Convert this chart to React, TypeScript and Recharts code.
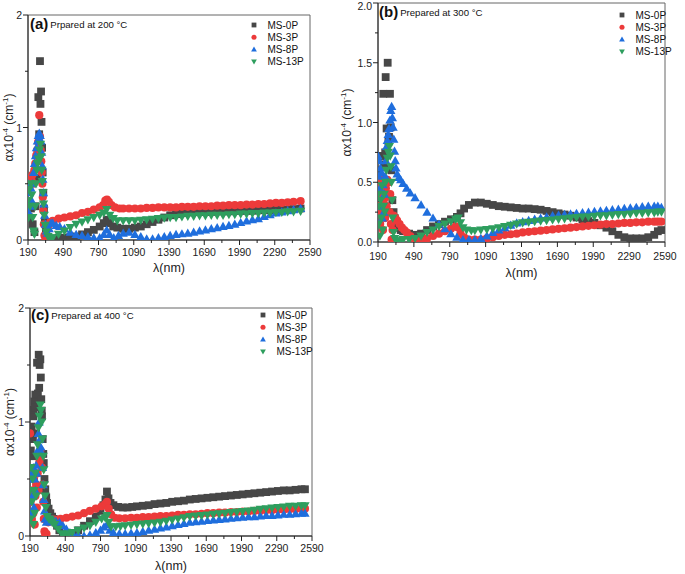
import React from "react"
import { ScatterChart, Scatter, XAxis, YAxis, ReferenceArea, Legend } from "recharts"

type Pt = [number, number]

const FONT = "'Liberation Sans', Arial, sans-serif"

const SERIES_NAMES = ["MS-0P", "MS-3P", "MS-8P", "MS-13P"]
const SERIES_COLORS = ["#474747", "#EC3A3A", "#1F6EDD", "#2E9E5E"]
const SERIES_SHAPES = ["square", "circle", "triangle", "triangleDown"]

const X_TICKS = [190, 340, 490, 640, 790, 940, 1090, 1240, 1390, 1540, 1690, 1840, 1990, 2140, 2290, 2440, 2590]
const X_LABELS = [190, 490, 790, 1090, 1390, 1690, 1990, 2290, 2590]
const Y_TICKS_AC = [0, 0.5, 1, 1.5, 2]
const Y_LABELS_AC = [0, 1, 2]
const Y_TICKS_B = [0, 0.25, 0.5, 0.75, 1, 1.25, 1.5, 1.75, 2]
const Y_LABELS_B = [0, 0.5, 1, 1.5, 2]

// (a) prepared at 200 °C
const A_0P: Pt[] = [[190,0.32],[200,0.2],[215,0.28],[230,0.14],[245,0.07],[255,0.3],[265,0.55],[272,0.75],[278,1.27],[285,0.94],[292,1.59],[296,1.21],[301,1.32],[305,1.05],[310,0.82],[315,0.6],[320,0.42],[326,0.28],[333,0.16],[342,0.08],[355,0.03],[375,0.01],[400,0.01],[450,0.02],[500,0.02],[550,0.03],[600,0.03],[650,0.05],[700,0.07],[750,0.09],[800,0.12],[835,0.15],[860,0.18],[885,0.15],[915,0.12],[950,0.11],[1000,0.1],[1050,0.1],[1100,0.11],[1150,0.12],[1200,0.14],[1250,0.16],[1300,0.18],[1350,0.2],[1400,0.22],[1450,0.23],[1500,0.24],[1550,0.245],[1600,0.25],[1650,0.25],[1700,0.25],[1750,0.25],[1800,0.255],[1850,0.255],[1900,0.255],[1950,0.26],[2000,0.26],[2050,0.26],[2100,0.26],[2150,0.265],[2200,0.265],[2250,0.265],[2300,0.27],[2350,0.27],[2400,0.27],[2450,0.275],[2510,0.28]]
const A_3P: Pt[] = [[190,0.45],[197,0.52],[205,0.5],[212,0.55],[220,0.53],[228,0.58],[236,0.5],[244,0.62],[252,0.68],[260,0.75],[268,0.8],[276,0.87],[286,1.11],[292,0.92],[298,0.8],[303,0.7],[308,0.6],[312,0.5],[316,0.38],[320,0.26],[325,0.14],[330,0.04],[338,0.0],[360,0.12],[380,0.16],[400,0.17],[450,0.19],[500,0.2],[550,0.21],[600,0.22],[650,0.24],[700,0.25],[750,0.27],[800,0.29],[830,0.31],[848,0.35],[862,0.36],[878,0.34],[900,0.31],[930,0.29],[970,0.28],[1000,0.28],[1050,0.28],[1100,0.28],[1150,0.28],[1200,0.285],[1250,0.285],[1300,0.29],[1350,0.29],[1400,0.29],[1450,0.29],[1500,0.295],[1550,0.295],[1600,0.295],[1650,0.3],[1700,0.3],[1750,0.3],[1800,0.305],[1850,0.305],[1900,0.31],[1950,0.31],[2000,0.31],[2050,0.315],[2100,0.315],[2150,0.32],[2200,0.32],[2250,0.325],[2300,0.33],[2350,0.33],[2400,0.335],[2450,0.34],[2510,0.345]]
const A_8P: Pt[] = [[190,0.5],[195,0.25],[202,0.42],[208,0.3],[215,0.46],[222,0.35],[230,0.5],[238,0.6],[246,0.68],[254,0.75],[262,0.82],[270,0.88],[278,0.93],[286,0.95],[294,0.93],[300,0.88],[306,0.78],[311,0.66],[316,0.54],[321,0.42],[326,0.32],[332,0.22],[338,0.14],[346,0.08],[356,0.06],[370,0.1],[385,0.15],[400,0.15],[430,0.13],[460,0.12],[500,0.1],[550,0.07],[600,0.05],[650,0.04],[700,0.03],[750,0.02],[800,0.02],[835,0.05],[860,0.09],[885,0.05],[920,0.02],[960,0.04],[1000,0.06],[1050,0.07],[1100,0.05],[1150,0.03],[1200,0.01],[1250,0.01],[1300,0.02],[1350,0.03],[1400,0.04],[1450,0.05],[1500,0.055],[1550,0.06],[1600,0.07],[1650,0.08],[1700,0.09],[1750,0.1],[1800,0.11],[1850,0.12],[1900,0.13],[1950,0.14],[2000,0.155],[2050,0.17],[2100,0.18],[2150,0.19],[2200,0.21],[2250,0.225],[2300,0.24],[2350,0.25],[2400,0.26],[2450,0.27],[2510,0.28]]
const A_13P: Pt[] = [[190,0.35],[195,0.2],[200,0.45],[207,0.3],[214,0.5],[222,0.4],[230,0.2],[238,0.08],[245,0.05],[252,0.3],[258,0.5],[265,0.62],[272,0.68],[280,0.72],[288,0.8],[296,0.85],[302,0.74],[307,0.62],[312,0.52],[317,0.42],[322,0.32],[328,0.22],[335,0.13],[345,0.07],[360,0.03],[380,0.02],[400,0.02],[450,0.05],[500,0.08],[550,0.11],[600,0.14],[650,0.16],[700,0.18],[750,0.2],[800,0.22],[835,0.24],[860,0.27],[885,0.22],[915,0.19],[950,0.17],[1000,0.17],[1050,0.17],[1100,0.17],[1150,0.175],[1200,0.18],[1250,0.185],[1300,0.19],[1350,0.195],[1400,0.2],[1450,0.2],[1500,0.205],[1550,0.21],[1600,0.21],[1650,0.215],[1700,0.215],[1750,0.22],[1800,0.22],[1850,0.22],[1900,0.225],[1950,0.225],[2000,0.23],[2050,0.23],[2100,0.235],[2150,0.235],[2200,0.24],[2250,0.24],[2300,0.245],[2350,0.245],[2400,0.25],[2450,0.25],[2510,0.255]]

// (b) prepared at 300 °C
const B_0P: Pt[] = [[190,0.35],[200,0.6],[210,0.72],[221,0.72],[228,0.3],[234,1.24],[242,0.65],[250,0.75],[254,1.38],[262,0.95],[271,1.5],[277,0.84],[282,0.88],[290,1.24],[296,0.96],[302,0.6],[310,0.35],[320,0.25],[330,0.2],[345,0.15],[360,0.12],[380,0.1],[400,0.09],[450,0.07],[500,0.06],[550,0.07],[600,0.1],[650,0.13],[700,0.15],[750,0.17],[800,0.19],[850,0.21],[880,0.24],[910,0.28],[950,0.31],[1000,0.33],[1050,0.33],[1100,0.32],[1150,0.31],[1200,0.3],[1250,0.295],[1300,0.29],[1350,0.285],[1400,0.28],[1450,0.28],[1500,0.275],[1550,0.27],[1600,0.26],[1650,0.25],[1700,0.24],[1750,0.23],[1800,0.22],[1850,0.205],[1900,0.19],[1950,0.175],[2000,0.16],[2050,0.14],[2100,0.12],[2150,0.09],[2200,0.06],[2250,0.04],[2300,0.03],[2350,0.03],[2400,0.03],[2450,0.04],[2500,0.06],[2530,0.09],[2560,0.1]]
const B_3P: Pt[] = [[190,0.5],[196,0.3],[202,0.47],[208,0.15],[214,0.4],[220,0.25],[226,0.52],[232,0.1],[238,0.35],[244,0.5],[250,0.2],[256,0.45],[262,0.3],[268,0.52],[274,0.38],[280,0.5],[286,0.25],[292,0.4],[298,0.15],[304,0.02],[312,0.1],[320,0.22],[335,0.2],[350,0.18],[370,0.15],[390,0.12],[410,0.1],[430,0.08],[460,0.05],[500,0.02],[550,0.01],[600,0.03],[650,0.05],[700,0.07],[750,0.09],[800,0.11],[840,0.13],[862,0.12],[880,0.07],[910,0.04],[950,0.02],[1000,0.02],[1050,0.02],[1100,0.03],[1150,0.04],[1200,0.05],[1250,0.06],[1300,0.065],[1350,0.07],[1400,0.08],[1450,0.085],[1500,0.09],[1550,0.095],[1600,0.1],[1650,0.105],[1700,0.11],[1750,0.115],[1800,0.12],[1850,0.125],[1900,0.13],[1950,0.135],[2000,0.14],[2050,0.145],[2100,0.15],[2150,0.15],[2200,0.155],[2250,0.16],[2300,0.16],[2350,0.165],[2400,0.165],[2450,0.17],[2500,0.17],[2530,0.17],[2560,0.17]]
const B_8P: Pt[] = [[190,0.72],[195,0.55],[200,0.68],[205,0.45],[210,0.62],[215,0.3],[220,0.58],[226,0.2],[232,0.48],[238,0.25],[244,0.4],[250,0.55],[256,0.68],[262,0.8],[268,0.85],[275,0.9],[282,0.95],[290,1.02],[297,1.1],[304,1.135],[310,1.04],[316,0.96],[322,0.86],[328,0.76],[334,0.68],[340,0.62],[350,0.57],[365,0.54],[380,0.52],[400,0.49],[430,0.45],[460,0.41],[500,0.37],[550,0.31],[600,0.25],[650,0.2],[700,0.15],[750,0.11],[800,0.07],[850,0.04],[900,0.02],[950,0.02],[1000,0.02],[1050,0.03],[1100,0.05],[1150,0.08],[1200,0.1],[1250,0.12],[1300,0.14],[1350,0.16],[1400,0.17],[1450,0.18],[1500,0.19],[1550,0.2],[1600,0.21],[1650,0.22],[1700,0.225],[1750,0.23],[1800,0.235],[1850,0.24],[1900,0.245],[1950,0.25],[2000,0.255],[2050,0.26],[2100,0.265],[2150,0.27],[2200,0.275],[2250,0.28],[2300,0.285],[2350,0.29],[2400,0.295],[2450,0.3],[2500,0.3],[2530,0.3],[2560,0.29]]
const B_13P: Pt[] = [[190,0.4],[195,0.15],[200,0.3],[206,0.05],[212,0.35],[218,0.2],[224,0.47],[230,0.1],[236,0.3],[242,0.4],[248,0.25],[254,0.5],[260,0.6],[268,0.7],[276,0.75],[285,0.8],[292,0.72],[298,0.63],[303,0.5],[308,0.35],[313,0.2],[320,0.08],[330,0.03],[345,0.01],[370,0.01],[400,0.02],[450,0.02],[500,0.03],[550,0.05],[600,0.08],[650,0.1],[700,0.13],[750,0.15],[800,0.17],[840,0.19],[860,0.2],[880,0.16],[900,0.12],[930,0.1],[970,0.095],[1000,0.095],[1050,0.1],[1100,0.105],[1150,0.11],[1200,0.12],[1250,0.13],[1300,0.14],[1350,0.15],[1400,0.16],[1450,0.165],[1500,0.17],[1550,0.175],[1600,0.18],[1650,0.185],[1700,0.19],[1750,0.195],[1800,0.2],[1850,0.205],[1900,0.21],[1950,0.21],[2000,0.215],[2050,0.22],[2100,0.22],[2150,0.225],[2200,0.23],[2250,0.23],[2300,0.235],[2350,0.24],[2400,0.24],[2450,0.245],[2500,0.245],[2530,0.25],[2560,0.25]]

// (c) prepared at 400 °C
const C_0P: Pt[] = [[190,0.9],[197,0.75],[204,0.96],[210,0.7],[215,0.85],[218,1.05],[221,1.11],[227,1.18],[232,1.13],[235,1.24],[242,0.9],[250,1.52],[257,1.25],[264,1.59],[268,1.3],[272,1.5],[278,1.55],[282,1.39],[286,1.2],[290,1.1],[292,1.05],[298,0.85],[303,0.72],[307,0.64],[313,0.5],[320,0.41],[328,0.34],[335,0.29],[348,0.24],[363,0.2],[378,0.17],[392,0.15],[406,0.12],[420,0.09],[440,0.05],[470,0.02],[500,0.01],[550,0.02],[600,0.05],[650,0.09],[700,0.13],[750,0.17],[790,0.22],[815,0.27],[832,0.32],[845,0.39],[858,0.33],[875,0.29],[900,0.27],[940,0.255],[980,0.25],[1020,0.25],[1060,0.255],[1100,0.26],[1150,0.265],[1200,0.27],[1250,0.28],[1300,0.285],[1350,0.29],[1400,0.3],[1450,0.305],[1500,0.31],[1550,0.32],[1600,0.325],[1650,0.33],[1700,0.335],[1750,0.34],[1800,0.345],[1850,0.35],[1900,0.355],[1950,0.36],[2000,0.365],[2050,0.37],[2100,0.375],[2150,0.38],[2200,0.385],[2250,0.39],[2300,0.395],[2350,0.4],[2400,0.4],[2450,0.405],[2500,0.41],[2530,0.41]]
const C_3P: Pt[] = [[190,0.9],[195,0.3],[200,0.55],[206,0.15],[212,0.4],[218,0.2],[224,0.5],[230,0.1],[236,0.35],[242,0.45],[248,0.25],[255,0.55],[262,0.4],[270,0.65],[278,0.75],[285,0.7],[292,0.6],[298,0.45],[303,0.3],[308,0.15],[313,0.04],[320,0.01],[330,0.02],[345,0.12],[360,0.145],[380,0.145],[400,0.145],[450,0.15],[500,0.16],[550,0.17],[600,0.18],[650,0.2],[700,0.22],[750,0.24],[800,0.26],[830,0.28],[845,0.3],[860,0.24],[880,0.19],[910,0.16],[950,0.155],[1000,0.155],[1050,0.16],[1100,0.16],[1150,0.165],[1200,0.165],[1250,0.17],[1300,0.175],[1350,0.175],[1400,0.18],[1450,0.185],[1500,0.185],[1550,0.19],[1600,0.19],[1650,0.195],[1700,0.2],[1750,0.2],[1800,0.205],[1850,0.205],[1900,0.21],[1950,0.21],[2000,0.215],[2050,0.215],[2100,0.22],[2150,0.22],[2200,0.225],[2250,0.225],[2300,0.23],[2350,0.23],[2400,0.235],[2450,0.235],[2500,0.24],[2530,0.24]]
const C_8P: Pt[] = [[190,0.3],[195,0.5],[200,0.2],[206,0.55],[212,0.35],[218,0.6],[224,0.25],[230,0.5],[236,0.4],[242,0.62],[248,0.55],[255,0.75],[262,0.9],[268,1.0],[275,0.85],[282,0.78],[290,0.73],[296,0.6],[302,0.45],[308,0.32],[314,0.22],[320,0.15],[330,0.12],[345,0.13],[365,0.15],[385,0.14],[410,0.13],[440,0.12],[470,0.09],[500,0.06],[530,0.03],[560,0.01],[600,0.01],[650,0.0],[700,0.01],[750,0.03],[790,0.05],[820,0.08],[845,0.1],[870,0.05],[900,0.03],[950,0.02],[1000,0.02],[1050,0.025],[1100,0.03],[1150,0.04],[1200,0.05],[1250,0.06],[1300,0.07],[1350,0.08],[1400,0.09],[1450,0.1],[1500,0.11],[1550,0.12],[1600,0.125],[1650,0.13],[1700,0.135],[1750,0.14],[1800,0.145],[1850,0.15],[1900,0.155],[1950,0.16],[2000,0.165],[2050,0.17],[2100,0.17],[2150,0.175],[2200,0.18],[2250,0.18],[2300,0.185],[2350,0.19],[2400,0.19],[2450,0.195],[2500,0.2],[2530,0.2]]
const C_13P: Pt[] = [[190,0.4],[195,0.15],[200,0.6],[206,0.3],[212,0.5],[218,0.1],[224,0.4],[230,0.2],[236,0.55],[242,0.35],[248,0.7],[255,0.8],[262,0.95],[270,1.05],[278,1.15],[284,1.1],[290,1.0],[296,0.85],[302,0.7],[307,0.58],[312,0.45],[318,0.35],[325,0.25],[335,0.17],[350,0.15],[363,0.14],[380,0.12],[400,0.1],[430,0.06],[460,0.02],[490,0.01],[520,0.02],[550,0.03],[600,0.05],[650,0.07],[700,0.09],[750,0.12],[800,0.15],[830,0.16],[845,0.18],[860,0.12],[880,0.08],[920,0.08],[960,0.085],[1000,0.09],[1050,0.095],[1100,0.1],[1150,0.105],[1200,0.11],[1250,0.115],[1300,0.12],[1350,0.13],[1400,0.14],[1450,0.15],[1500,0.16],[1550,0.17],[1600,0.175],[1650,0.18],[1700,0.185],[1750,0.19],[1800,0.195],[1850,0.2],[1900,0.205],[1950,0.21],[2000,0.215],[2050,0.22],[2100,0.225],[2150,0.235],[2200,0.24],[2250,0.245],[2300,0.25],[2350,0.255],[2400,0.26],[2450,0.26],[2500,0.265],[2530,0.265]]

interface PanelConfig {
  tag: string
  title: string
  series: Pt[][]
  left: number
  top: number
  width: number
  height: number
  margin: { top: number; right: number; bottom: number; left: number }
  yAxisWidth: number
  xAxisHeight: number
  yTicks: number[]
  yLabels: number[]
  yDecimals: number
  xLabelGap: number
  xTitleGap: number
  yTitleX: number
  legendLeft: number
  legendTop: number
  tagX: number
  tagY: number
}

const PANELS: PanelConfig[] = [
  {
    tag: "(a)", title: "Prpared at 200 °C", series: [A_0P, A_3P, A_8P, A_13P],
    left: 0, top: 0, width: 340, height: 290,
    margin: { top: 15, right: 30, bottom: 0, left: 0 },
    yAxisWidth: 28, xAxisHeight: 50,
    yTicks: Y_TICKS_AC, yLabels: Y_LABELS_AC, yDecimals: 0,
    xLabelGap: 12, xTitleGap: 28, yTitleX: 8.5,
    legendLeft: 249, legendTop: 19, tagX: 30, tagY: 29,
  },
  {
    tag: "(b)", title: "Prepared at 300 °C", series: [B_0P, B_3P, B_8P, B_13P],
    left: 340, top: 0, width: 345, height: 290,
    margin: { top: 3, right: 20, bottom: 0, left: 0 },
    yAxisWidth: 38, xAxisHeight: 48,
    yTicks: Y_TICKS_B, yLabels: Y_LABELS_B, yDecimals: 1,
    xLabelGap: 14, xTitleGap: 31, yTitleX: 7,
    legendLeft: 277, legendTop: 9, tagX: 39, tagY: 17,
  },
  {
    tag: "(c)", title: "Prepared at 400 °C", series: [C_0P, C_3P, C_8P, C_13P],
    left: 0, top: 290, width: 340, height: 284,
    margin: { top: 18, right: 28, bottom: 0, left: 0 },
    yAxisWidth: 30, xAxisHeight: 38,
    yTicks: Y_TICKS_AC, yLabels: Y_LABELS_AC, yDecimals: 0,
    xLabelGap: 12, xTitleGap: 30, yTitleX: 10,
    legendLeft: 258, legendTop: 19, tagX: 31, tagY: 30,
  },
]

function Marker({ kind, cx, cy, r, color }: { kind: string; cx: number; cy: number; r: number; color: string }) {
  if (kind === "square") {
    return <rect x={cx - r} y={cy - r} width={2 * r} height={2 * r} fill={color} />
  }
  if (kind === "circle") {
    return <circle cx={cx} cy={cy} r={r * 1.05} fill={color} />
  }
  if (kind === "triangle") {
    return <polygon points={`${cx},${cy - r * 1.2} ${cx - r * 1.2},${cy + r * 0.9} ${cx + r * 1.2},${cy + r * 0.9}`} fill={color} />
  }
  return <polygon points={`${cx},${cy + r * 1.2} ${cx - r * 1.2},${cy - r * 0.9} ${cx + r * 1.2},${cy - r * 0.9}`} fill={color} />
}

const renderLegend = () => (
  <svg width={80} height={52} style={{ display: "block" }}>
    {SERIES_NAMES.map((name, i) => (
      <g key={name}>
        <Marker kind={SERIES_SHAPES[i]} cx={5} cy={6 + i * 12.2} r={2.4} color={SERIES_COLORS[i]} />
        <text x={18.5} y={6 + i * 12.2} dominantBaseline="central" fontSize={10} fontFamily={FONT} fill="#111">
          {name}
        </text>
      </g>
    ))}
  </svg>
)

function Panel({ cfg }: { cfg: PanelConfig }) {
  const xTick = (p: any) => {
    const v = p.payload.value
    const major = X_LABELS.includes(v)
    return (
      <g>
        <line x1={p.x} y1={p.y} x2={p.x} y2={p.y + (major ? 5 : 3)} stroke="#222" />
        {major && (
          <text x={p.x} y={p.y + cfg.xLabelGap} textAnchor="middle" dominantBaseline="central" fontSize={10.5} fontFamily={FONT} fill="#222">
            {v}
          </text>
        )}
      </g>
    )
  }

  const yTick = (p: any) => {
    const v = p.payload.value
    const major = cfg.yLabels.some((l) => Math.abs(l - v) < 1e-6)
    return (
      <g>
        <line x1={p.x} y1={p.y} x2={p.x - (major ? 5 : 3)} y2={p.y} stroke="#222" />
        {major && (
          <text x={p.x - 6} y={Math.max(p.y, 6)} textAnchor="end" dominantBaseline="central" fontSize={10.5} fontFamily={FONT} fill="#222">
            {v.toFixed(cfg.yDecimals)}
          </text>
        )}
      </g>
    )
  }

  const xTitle = (p: any) => {
    const vb = p.viewBox
    return (
      <text x={vb.x + vb.width / 2} y={vb.y + cfg.xTitleGap} textAnchor="middle" dominantBaseline="central" fontSize={12.5} fontFamily={FONT} fill="#222">
        λ(nm)
      </text>
    )
  }

  const yTitle = (p: any) => {
    const vb = p.viewBox
    const cx = cfg.yTitleX
    const cy = vb.y + vb.height / 2
    return (
      <text x={cx} y={cy} transform={`rotate(-90 ${cx} ${cy})`} textAnchor="middle" dominantBaseline="central" fontSize={12} fontFamily={FONT} fill="#222">
        αx10<tspan dy={-4} fontSize={8}>-4</tspan>
        <tspan dy={4}> (cm</tspan>
        <tspan dy={-4} fontSize={8}>-1</tspan>
        <tspan dy={4}>)</tspan>
      </text>
    )
  }

  return (
    <div style={{ position: "absolute", left: cfg.left, top: cfg.top, width: cfg.width, height: cfg.height }}>
      <ScatterChart width={cfg.width} height={cfg.height} margin={cfg.margin}>
        <XAxis
          type="number"
          dataKey="x"
          domain={[190, 2590]}
          ticks={X_TICKS}
          interval={0}
          allowDataOverflow
          tickSize={0}
          tickMargin={0}
          tick={xTick}
          axisLine={{ stroke: "#222" }}
          height={cfg.xAxisHeight}
          label={xTitle}
        />
        <YAxis
          type="number"
          dataKey="y"
          domain={[0, 2]}
          ticks={cfg.yTicks}
          interval={0}
          allowDataOverflow
          tickSize={0}
          tickMargin={0}
          tick={yTick}
          axisLine={{ stroke: "#222" }}
          width={cfg.yAxisWidth}
          label={yTitle}
        />
        <ReferenceArea x1={190} x2={2590} y1={0} y2={2} fill="none" stroke="#666" strokeWidth={1} />
        {cfg.series.map((pts, i) => (
          <Scatter
            key={SERIES_NAMES[i]}
            name={SERIES_NAMES[i]}
            data={pts.map(([x, y]) => ({ x, y }))}
            fill={SERIES_COLORS[i]}
            isAnimationActive={false}
            shape={(p: any) => <Marker kind={SERIES_SHAPES[i]} cx={p.cx} cy={p.cy} r={3.9} color={SERIES_COLORS[i]} />}
          />
        ))}
        <Legend
          layout="vertical"
          align="center"
          verticalAlign="middle"
          content={renderLegend}
          wrapperStyle={{ left: cfg.legendLeft, top: cfg.legendTop, width: "auto", height: "auto" }}
        />
      </ScatterChart>
      <svg width={cfg.width} height={40} style={{ position: "absolute", left: 0, top: 0, pointerEvents: "none" }}>
        <text x={cfg.tagX} y={cfg.tagY} fontSize={15} fontWeight="bold" fontFamily={FONT} fill="#111">
          {cfg.tag}
          <tspan dx={2} dy={-1} fontSize={9.6} fontWeight="normal">{cfg.title}</tspan>
        </text>
      </svg>
    </div>
  )
}

export default function App() {
  return (
    <div style={{ position: "absolute", left: 0, top: 0, width: 685, height: 574, background: "#fff" }}>
      {PANELS.map((cfg) => (
        <Panel key={cfg.tag} cfg={cfg} />
      ))}
    </div>
  )
}
